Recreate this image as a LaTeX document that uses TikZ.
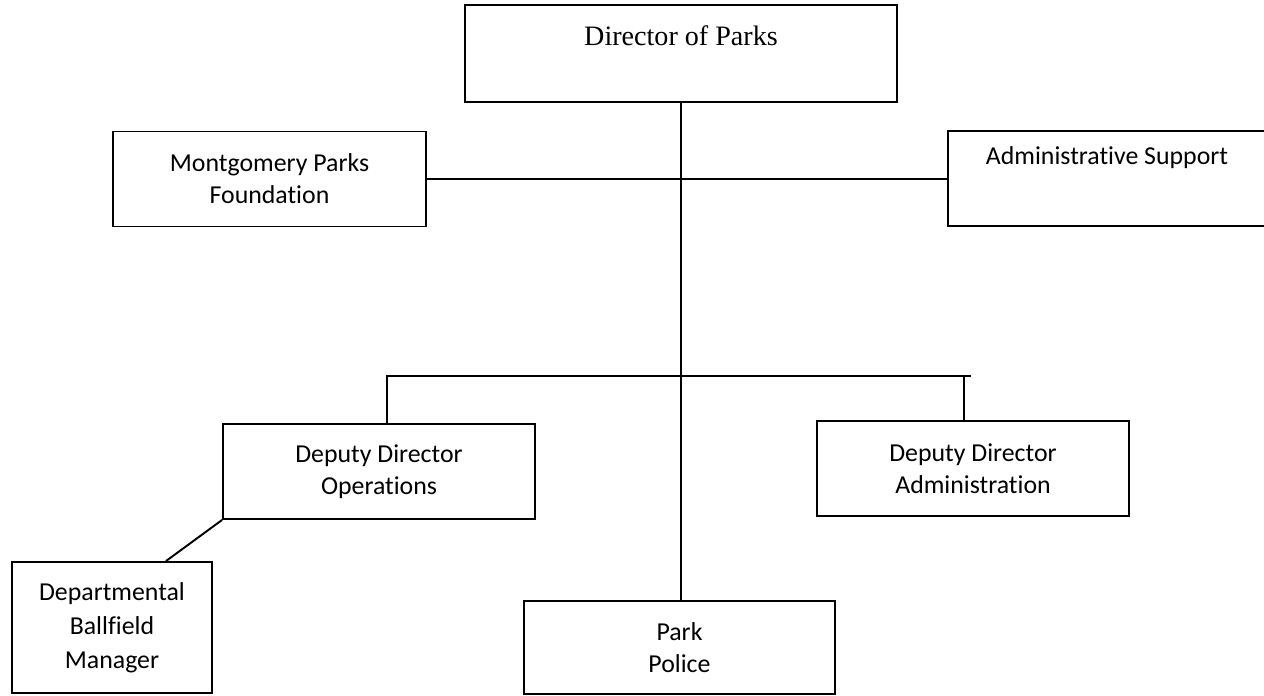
\documentclass[tikz,border=0pt]{standalone}
\usepackage{fontspec}
\setmainfont{Liberation Serif}
\newfontfamily\orgsans[Ligatures=NoCommon]{Carlito}

\begin{document}
\begin{tikzpicture}[x=0.02cm, y=-0.02cm,
    box/.style={draw, line width=1.1pt, inner sep=0pt, align=center,
                font=\orgsans\fontsize{14.7}{18.2}\selectfont},
    toptext/.style={anchor=north, inner sep=0pt},
    link/.style={line width=1.1pt}]

    \useasboundingbox (0,0) rectangle (1264,696);
    \clip (0,0) rectangle (1264,696);

    % top row
    \node (dir) at (681,53.5) [box, minimum width=8.64cm, minimum height=1.94cm,
          label={[toptext, font=\fontsize{16}{19}\selectfont, yshift=-0.42cm]north:Director of Parks}] {};
    \node (found) at (269.5,179) [box, minimum width=6.26cm, minimum height=1.9cm] {Montgomery Parks\\Foundation};
    \node (adm) at (1107,178.5) [box, minimum width=6.36cm, minimum height=1.9cm,
          label={[toptext, font=\orgsans\fontsize{14.7}{18.2}\selectfont, yshift=-0.32cm]north:Administrative Support}] {};
    \draw[link] (found.east) to (found.east -| adm.west);

    % deputies
    \node (ops) at (379,471.5) [box, minimum width=6.24cm, minimum height=1.9cm] {Deputy Director\\Operations};
    \node (dda) at (973,468.5) [box, minimum width=6.24cm, minimum height=1.9cm] {Deputy Director\\Administration};
    \coordinate (busl) at (387,376);
    \coordinate (busr) at (971,376);
    \coordinate (tickr) at (964,376);
    \draw[link] (busl |- ops.north) to (busl) to (busr);
    \draw[link] (tickr) to (tickr |- dda.north);

    % bottom row
    \node (ball) at (112,627.5) [box, minimum width=4cm, minimum height=2.62cm,
          font=\orgsans\fontsize{14.7}{19.4}\selectfont] {Departmental\\Ballfield\\Manager};
    \node (police) at (679.5,647.5) [box, minimum width=6.22cm, minimum height=1.86cm] {Park\\Police};
    \draw[link] (ops.south west) to ([xshift=1.08cm]ball.north);
    \draw[link] (dir.south) to (dir.south |- police.north);

\end{tikzpicture}
\end{document}
